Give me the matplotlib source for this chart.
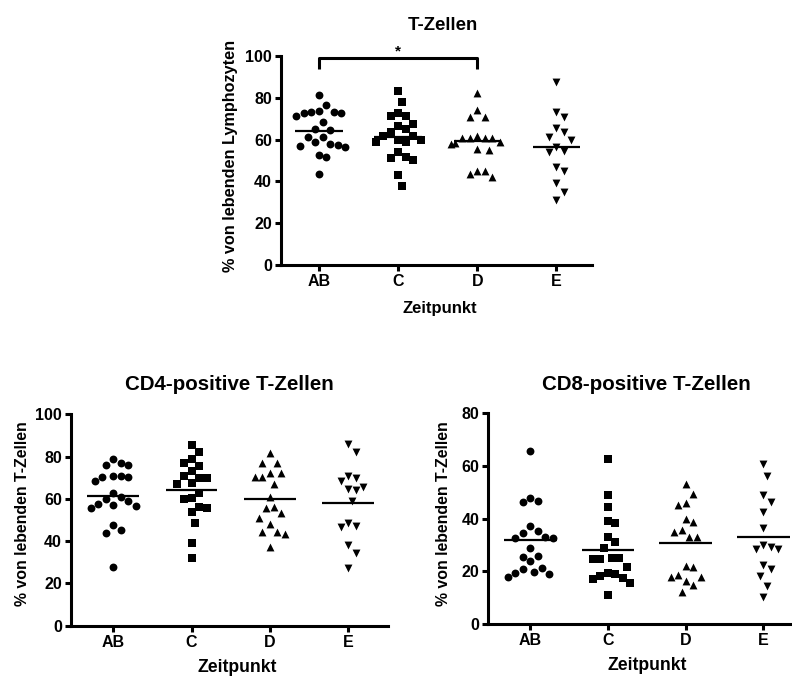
import numpy as np
import matplotlib
matplotlib.use("Agg")
import matplotlib.pyplot as plt

plt.rcParams['font.family'] = ['Liberation Sans', 'DejaVu Sans']
plt.rcParams['font.weight'] = 'bold'

groups = ['AB', 'C', 'D', 'E']
markers = ['o', 's', '^', 'v']

# T-Zellen (% von lebenden Lymphozyten)
tz_ab = [81.3, 76.6, 73.4, 72.6, 71.3, 72.6, 73.4, 73.8, 68.6, 65.1, 64.6,
         61.4, 61.1, 57.4, 56.9, 59.0, 56.6, 57.8, 52.6, 51.8, 43.4]
tz_c = [83.4, 77.8, 71.3, 67.5, 66.7, 71.3, 72.6, 64.9, 63.8, 61.5, 60.0,
        59.0, 59.0, 60.0, 61.5, 54.2, 51.0, 50.2, 51.5, 43.1, 37.8]
tz_d = [82.4, 71.0, 71.0, 74.2, 60.6, 60.6, 61.7, 60.6, 60.6, 58.5, 58.0,
        59.0, 55.0, 55.5, 45.1, 42.0, 43.5, 45.1]
tz_e = [87.7, 73.4, 71.0, 65.4, 63.8, 59.8, 61.1, 54.2, 54.5, 56.3, 45.1,
        47.0, 39.1, 35.1, 31.1]

# CD4-positive T-Zellen (% von lebenden T-Zellen)
cd4_ab = [76.0, 78.9, 76.8, 76.0, 70.8, 70.2, 68.5, 70.5, 71.0, 62.9, 61.0,
          59.1, 57.1, 55.5, 56.6, 57.6, 59.9, 45.3, 44.0, 47.6, 27.6]
cd4_c = [85.5, 82.0, 78.9, 75.5, 76.8, 73.2, 69.7, 69.7, 70.8, 66.9, 67.4,
         62.6, 60.3, 59.8, 56.3, 55.5, 53.6, 48.4, 39.3, 31.9]
cd4_d = [81.8, 77.1, 77.1, 72.1, 70.2, 70.2, 72.4, 66.9, 61.0, 55.5, 53.5,
         56.0, 51.1, 48.1, 44.5, 43.4, 44.5, 37.4]
cd4_e = [85.9, 82.3, 70.0, 68.4, 70.8, 64.2, 65.5, 64.5, 59.1, 48.7, 46.8,
         47.2, 38.2, 34.5, 27.2]

# CD8-positive T-Zellen (% von lebenden T-Zellen)
cd8_ab = [65.8, 47.7, 46.2, 46.7, 37.2, 34.4, 35.4, 32.8, 32.8, 33.1, 29.0,
          25.6, 24.0, 25.8, 20.8, 19.2, 18.0, 19.0, 19.9, 21.4]
cd8_c = [62.5, 49.0, 44.3, 38.5, 39.1, 32.9, 31.0, 28.7, 25.2, 24.6, 24.6,
         24.9, 21.8, 19.5, 18.2, 17.3, 15.5, 17.0, 19.0, 11.0]
cd8_d = [53.0, 49.2, 45.2, 46.1, 39.7, 38.8, 35.0, 33.1, 33.1, 35.7, 21.5,
         22.0, 16.4, 18.0, 18.0, 18.6, 14.8, 12.3]
cd8_e = [60.7, 56.2, 49.0, 46.4, 42.6, 36.3, 29.3, 28.4, 28.4, 30.0, 20.8,
         22.4, 18.2, 14.4, 10.1]


def swarm(vals, ax, d=7.5, ystretch=1.6):
    # beeswarm: push points sideways when they are close in value,
    # vertical neighbourhood taken a bit larger so rows spread out like prism does
    p0 = ax.transData.transform((0, 0))
    p1 = ax.transData.transform((1, 1))
    sx, sy = p1[0] - p0[0], p1[1] - p0[1]
    vals = np.asarray(vals)
    offs = np.zeros(len(vals))
    placed = []
    step = d * 0.5
    for i in np.argsort(vals)[::-1]:
        y = vals[i] * sy
        for k in [0, 1, -1, 2, -2, 3, -3, 4, -4, 5, -5, 6, -6, 7, -7]:
            x = k * step
            ok = True
            for px, py in placed:
                if ((x - px) / d) ** 2 + ((y - py) / (d * ystretch)) ** 2 < 1:
                    ok = False
                    break
            if ok:
                break
        placed.append((x, y))
        offs[i] = x / sx
    return offs


def panel(fig, rect, data, xlim, ylim, yticks, half=0.3):
    ax = fig.add_axes(rect)
    ax.set_xlim(*xlim)
    ax.set_ylim(*ylim)
    for s in ['top', 'right']:
        ax.spines[s].set_visible(False)
    for s in ['left', 'bottom']:
        ax.spines[s].set_linewidth(2.2)
        ax.spines[s].set_capstyle('projecting')
    ax.set_xticks(range(len(groups)))
    ax.set_xticklabels(groups)
    ax.set_yticks(yticks)
    ax.tick_params(width=2.2, length=4.5, labelsize=11.5, pad=2)
    for lab in ax.get_xticklabels() + ax.get_yticklabels():
        lab.set_fontweight('bold')
    for i, vals in enumerate(data):
        offs = swarm(vals, ax)
        ax.scatter(i + offs, vals, s=32, marker=markers[i], color='black',
                   linewidths=0, clip_on=False, zorder=3)
        ax.hlines(np.mean(vals), i - half, i + half, color='black', lw=1.6,
                  zorder=4)
    return ax


fig = plt.figure(figsize=(7.92, 6.77), dpi=100)
W, H = 792.0, 677.0

ax1 = panel(fig, [281 / W, 1 - 265 / H, 311 / W, 209 / H],
            [tz_ab, tz_c, tz_d, tz_e], (-0.48, 3.45), (0, 100),
            [0, 20, 40, 60, 80, 100])
ax1.plot([0, 0, 2, 2], [94, 98.9, 98.9, 94], color='black', lw=2.2,
         clip_on=False, solid_capstyle='butt')
ax1.text(1, 102, '*', ha='center', va='center', fontsize=11,
         fontweight='bold')

ax2 = panel(fig, [71 / W, 1 - 625.7 / H, 317 / W, 211.4 / H],
            [cd4_ab, cd4_c, cd4_d, cd4_e], (-0.54, 3.51), (0, 100),
            [0, 20, 40, 60, 80, 100], half=0.33)

ax3 = panel(fig, [488.3 / W, 1 - 624 / H, 314.7 / W, 210.7 / H],
            [cd8_ab, cd8_c, cd8_d, cd8_e], (-0.54, 3.51), (0, 80),
            [0, 20, 40, 60, 80], half=0.34)

# titles and axis labels
fig.text(442.8 / W, 1 - 26 / H, 'T-Zellen', ha='center', va='center',
         fontsize=13.4, fontweight='bold')
fig.text(229 / W, 1 - 385 / H, 'CD4-positive T-Zellen', ha='center',
         va='center', fontsize=14.8, fontweight='bold')
fig.text(646 / W, 1 - 384.5 / H, 'CD8-positive T-Zellen', ha='center',
         va='center', fontsize=14.8, fontweight='bold')

fig.text(439.5 / W, 1 - 308 / H, 'Zeitpunkt', ha='center', va='center',
         fontsize=12, fontweight='bold')
fig.text(236.7 / W, 1 - 667 / H, 'Zeitpunkt', ha='center', va='center',
         fontsize=12.7, fontweight='bold')
fig.text(646.7 / W, 1 - 665.5 / H, 'Zeitpunkt', ha='center', va='center',
         fontsize=12.7, fontweight='bold')

fig.text(230 / W, 1 - 156 / H, '% von lebenden Lymphozyten', ha='center',
         va='center', rotation=90, fontsize=11.7, fontweight='bold')
fig.text(22.5 / W, 1 - 514 / H, '% von lebenden T-Zellen', ha='center',
         va='center', rotation=90, fontsize=11.4, fontweight='bold')
fig.text(443.3 / W, 1 - 514 / H, '% von lebenden T-Zellen', ha='center',
         va='center', rotation=90, fontsize=11.4, fontweight='bold')

fig.savefig('out.png', dpi=100)
